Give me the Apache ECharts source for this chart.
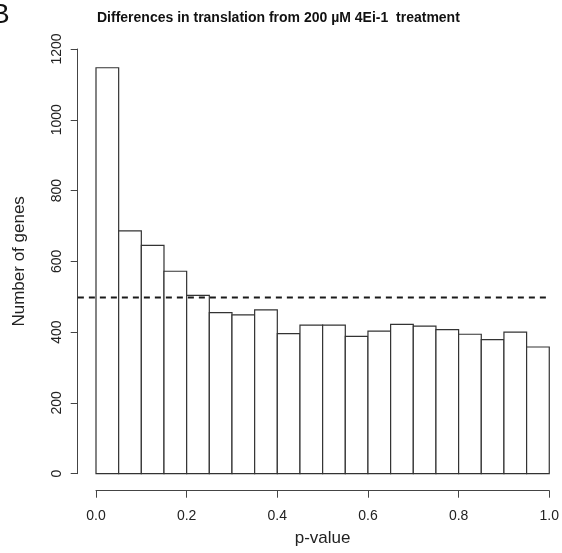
<!DOCTYPE html>
<html><head><meta charset="utf-8">
<script src="https://cdn.jsdelivr.net/npm/echarts@6/dist/echarts.min.js"></script>
<style>html,body{margin:0;padding:0;background:#fff}#c{width:562px;height:553px}</style>
</head><body><div id="c"></div>
<script>
// Histogram bin edges (p-value) and counts per bin
const binEdges = [0, 0.05, 0.10, 0.15, 0.20, 0.25, 0.30, 0.35, 0.40, 0.45, 0.50,
                  0.55, 0.60, 0.65, 0.70, 0.75, 0.80, 0.85, 0.90, 0.95, 1.00];
const counts = [1147, 686, 645, 572, 504, 455, 449, 463, 396, 420,
                420, 388, 403, 422, 417, 407, 394, 379, 400, 358];
const xTicks = [0, 0.2, 0.4, 0.6, 0.8, 1.0];
const yTicks = [0, 200, 400, 600, 800, 1000, 1200];
const refLineValue = 498;
const refLineX = [-0.04, 1.0];

const titleText = 'Differences in translation from 200 µM 4Ei-1  treatment';
const panelLabel = 'B';

const FONT = '"Liberation Sans", Arial, Helvetica, sans-serif';
const barData = counts.map((c, i) => [binEdges[i], binEdges[i + 1], c]);

const chart = echarts.init(document.getElementById('c'), null, {renderer: 'canvas'});
chart.setOption({
  animation: false,
  backgroundColor: '#fff',
  title: [
    {text: titleText, left: 92, top: 6,
     textStyle: {fontFamily: FONT, fontSize: 14, fontWeight: 'bold', color: '#111'}},
    {text: panelLabel, left: -14, top: -4,
     textStyle: {fontFamily: FONT, fontSize: 28, fontWeight: 'normal', color: '#111'}}
  ],
  grid: {left: 96, right: 12.3, top: 49, bottom: 79.3, containLabel: false},
  xAxis: {
    type: 'value', min: xTicks[0], max: xTicks[xTicks.length - 1], interval: 0.2,
    position: 'bottom', offset: 17,
    name: 'p-value', nameLocation: 'middle', nameGap: 39,
    nameTextStyle: {fontFamily: FONT, fontSize: 17, color: '#222'},
    axisLine: {show: true, onZero: false, lineStyle: {color: '#444', width: 1}},
    axisTick: {show: true, length: 7, lineStyle: {color: '#444', width: 1}},
    axisLabel: {fontFamily: FONT, fontSize: 14, color: '#222', margin: 18,
                formatter: v => v.toFixed(1)},
    splitLine: {show: false}
  },
  yAxis: {
    type: 'value', min: yTicks[0], max: yTicks[yTicks.length - 1], interval: 200,
    position: 'left', offset: 18.3,
    name: 'Number of genes', nameLocation: 'middle', nameGap: 50,
    nameTextStyle: {fontFamily: FONT, fontSize: 17, color: '#222'},
    axisLine: {show: true, onZero: false, lineStyle: {color: '#444', width: 1}},
    axisTick: {show: true, length: 7, lineStyle: {color: '#444', width: 1}},
    axisLabel: {fontFamily: FONT, fontSize: 14, color: '#222', margin: 13.5, rotate: 90,
                formatter: v => String(v)},
    splitLine: {show: false}
  },
  series: [
    {
      type: 'custom',
      data: barData,
      encode: {x: [0, 1], y: 2},
      renderItem: function (params, api) {
        const p0 = api.coord([api.value(0), api.value(2)]);
        const p1 = api.coord([api.value(1), 0]);
        return {
          type: 'rect',
          shape: {x: p0[0], y: p0[1], width: p1[0] - p0[0], height: p1[1] - p0[1]},
          style: {fill: '#fff', stroke: '#333', lineWidth: 1.2}
        };
      },
      z: 2
    },
    {
      type: 'custom',
      data: [[refLineX[0], refLineX[1], refLineValue]],
      encode: {x: [0, 1], y: 2},
      clip: false,
      renderItem: function (params, api) {
        const a = api.coord([api.value(0), api.value(2)]);
        const b = api.coord([api.value(1), api.value(2)]);
        return {
          type: 'line',
          shape: {x1: a[0], y1: a[1], x2: b[0], y2: b[1]},
          style: {stroke: '#1a1a1a', lineWidth: 2, lineDash: [6, 5]}
        };
      },
      z: 5
    }
  ]
});
</script></body></html>
